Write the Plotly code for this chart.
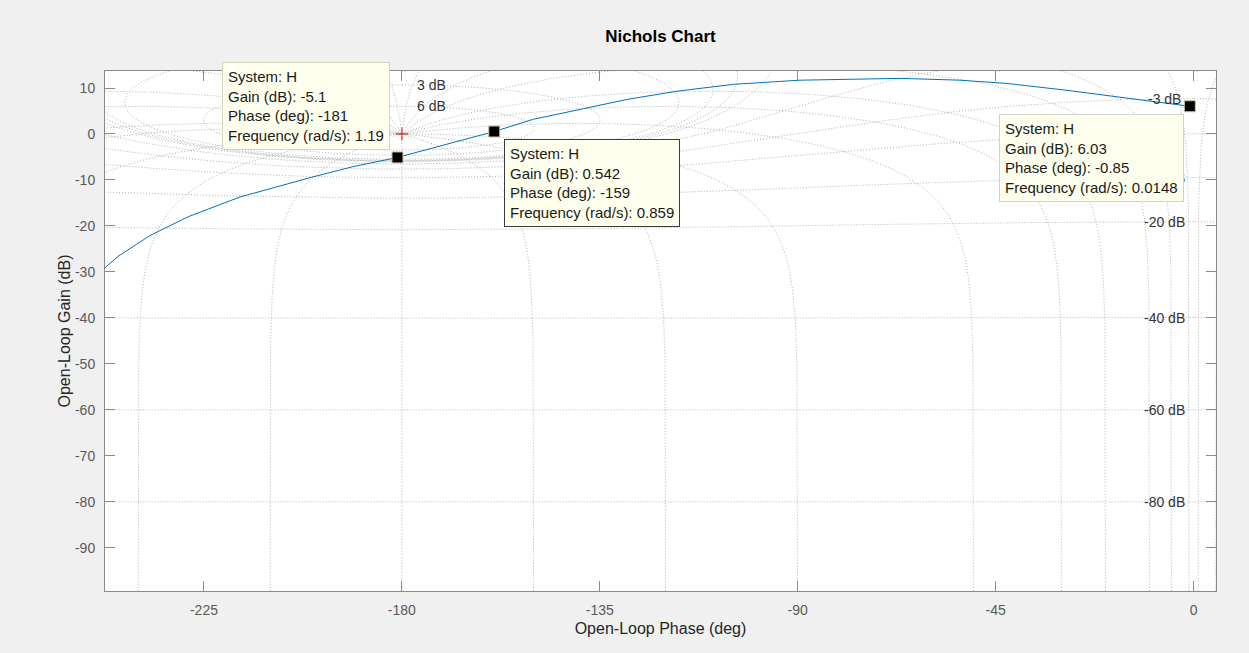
import numpy as np
import plotly.graph_objects as go

# ---------------- data ----------------
# open-loop response of system H (phase in deg, gain in dB)
curve_phase = [-247.5, -244.5, -237.3, -228.6, -216.8, -200.1, -191.1, -181.0,
               -159.0, -150.1, -138.7, -128.9, -117.5, -104.6, -89.5, -66.7,
               -53.1, -42.5, -28.8, -17.5, -10.6, -3.1, -0.85]
curve_gain = [-29.1, -26.6, -22.1, -18.0, -13.7, -9.3, -7.1, -5.1,
              0.542, 3.2, 5.5, 7.5, 9.3, 10.8, 11.7, 12.1,
              11.7, 11.0, 9.5, 8.1, 7.1, 6.2, 6.03]

# data tips
tip_system = ["H", "H", "H"]
tip_gain = [-5.1, 0.542, 6.03]
tip_phase = [-181, -159, -0.85]
tip_freq = [1.19, 0.859, 0.0148]

# critical point
crit_phase = [-180]
crit_gain = [0]

# Nichols grid: closed-loop gain (dB) and closed-loop phase (deg) contour levels
cl_gain_db = [6, 3, 1, 0.5, 0.25, 0, -1, -3, -6, -12, -20, -40, -60, -80, -100]
cl_phase_deg = [-1, -5, -10, -20, -30, -50, -90, -120, -150, -180,
                -210, -240, -270, -300, -310, -330, -340, -350, -355, -359]

x_ticks = [-225, -180, -135, -90, -45, 0]
y_ticks = [-90, -80, -70, -60, -50, -40, -30, -20, -10, 0, 10]
x_range = [-247.5, 5.1]
y_range = [-99.4, 13.7]

# ---------------- Nichols grid computation ----------------
gx, gy = [], []


def add_curve(ph, gn):
    for off in (-360.0, 0.0, 360.0):
        gx.extend(list(ph + off) + [None])
        gy.extend(list(gn) + [None])


for db in cl_gain_db:
    m = 10 ** (db / 20.0)
    if db == 0:
        psi = np.linspace(-0.3, -359.7, 1400)
    else:
        psi = np.linspace(0.0, -360.0, 1441)
    T = m * np.exp(1j * np.deg2rad(psi))
    L = T / (1 - T)
    ph = np.rad2deg(np.unwrap(np.angle(L)))
    if db >= 0:
        ph = ph - 360.0 * np.round((np.mean(ph) + 180.0) / 360.0)
    else:
        ph = ph - 360.0 * np.round(ph[0] / 360.0)
    gn = 20 * np.log10(np.abs(L))
    add_curve(ph, gn)

mags = 10 ** (np.linspace(-130, 130, 2000) / 20.0)
for p in cl_phase_deg:
    T = mags * np.exp(1j * np.deg2rad(p))
    L = T / (1 - T)
    ph = np.rad2deg(np.unwrap(np.angle(L)))
    ph = ph - 360.0 * np.round((ph[0] - p) / 360.0)
    gn = 20 * np.log10(np.abs(L))
    add_curve(ph, gn)

# ---------------- figure ----------------
FONT = "Liberation Sans, Arial, Helvetica, sans-serif"
fig = go.Figure()

fig.add_trace(go.Scatter(x=gx, y=gy, mode="lines",
                         line=dict(color="#b0b0b0", width=1, dash="1px,2px"),
                         hoverinfo="skip", showlegend=False))
fig.add_trace(go.Scatter(x=curve_phase, y=curve_gain, mode="lines",
                         line=dict(color="#0072BD", width=1),
                         name="H", showlegend=False))
fig.add_trace(go.Scatter(x=crit_phase, y=crit_gain, mode="markers",
                         marker=dict(symbol="cross-thin", size=9,
                                     line=dict(color="#ff0000", width=1)),
                         showlegend=False, hoverinfo="skip"))
fig.add_trace(go.Scatter(x=tip_phase, y=tip_gain, mode="markers",
                         marker=dict(symbol="square", size=11, color="black",
                                     line=dict(color="#c9c79a", width=1)),
                         showlegend=False))

annotations = []
# grid labels
for db in cl_gain_db:
    m = 10 ** (db / 20.0)
    if db > 0:
        g = 20 * np.log10(m / (m - 1))
        if g < y_range[1] - 1:
            annotations.append(dict(x=-177.0, y=g, xref="x", yref="y", text=f"{db:g} dB",
                                    showarrow=False, xanchor="left", yanchor="middle",
                                    font=dict(family=FONT, size=14, color="#333333")))
    elif db < 0:
        g = 20 * np.log10(m / (1 - m))
        if y_range[0] < g < y_range[1] - 1:
            annotations.append(dict(x=-6.5, y=g, xref="x", yref="y", text=f"{db:g} dB",
                                    showarrow=False, xanchor="center", yanchor="middle",
                                    font=dict(family=FONT, size=14, color="#333333")))

# data tip boxes: left / top corner in plot-area fractions
tip_box_x = [0.1053, 0.3588, 0.8049]
tip_box_y = [1.0173, 0.8687, 0.9173]
tip_border = ["#d4d4c4", "#3a3a3a", "#d4d4c4"]
for i in range(3):
    txt = (f"System: {tip_system[i]}<br>Gain (dB): {tip_gain[i]:g}<br>"
           f"Phase (deg): {tip_phase[i]:g}<br>Frequency (rad/s): {tip_freq[i]:g}")
    annotations.append(dict(x=tip_box_x[i], y=tip_box_y[i], xref="paper", yref="paper",
                            text=txt,
                            showarrow=False, xanchor="left", yanchor="top", align="left",
                            bgcolor="#ffffee", bordercolor=tip_border[i], borderwidth=1,
                            borderpad=5,
                            font=dict(family=FONT, size=15, color="#1a1a1a")))

axis_common = dict(showline=True, linecolor="#8a8a8a", linewidth=1, mirror="ticks",
                   ticks="inside", ticklen=10, tickcolor="#8a8a8a", tickwidth=1,
                   showgrid=False, zeroline=False,
                   tickfont=dict(family=FONT, size=14, color="#595959"))

fig.update_layout(
    width=1249, height=653,
    paper_bgcolor="#f0f0f0", plot_bgcolor="#ffffff",
    margin=dict(l=105, r=33, t=71, b=62),
    title=dict(text="<b>Nichols Chart</b>", x=0.5288, xanchor="center",
               y=1 - 36 / 653, yanchor="middle", yref="container",
               font=dict(family=FONT, size=17, color="#000000")),
    xaxis=dict(range=x_range, tickvals=x_ticks, ticktext=[str(v) for v in x_ticks],
               ticklabelstandoff=6,
               title=dict(text="Open-Loop Phase (deg)", standoff=6,
                          font=dict(family=FONT, size=16, color="#262626")),
               **axis_common),
    yaxis=dict(range=y_range, tickvals=y_ticks, ticktext=[str(v) for v in y_ticks],
               ticklabelstandoff=6,
               title=dict(text="Open-Loop Gain (dB)", standoff=0,
                          font=dict(family=FONT, size=16, color="#262626")),
               **axis_common),
    annotations=annotations,
    showlegend=False,
    hovermode="closest",
)

fig.write_html("out.html", config={"displayModeBar": False},
               post_script="document.body.style.margin='0';document.body.style.overflow='hidden';")
